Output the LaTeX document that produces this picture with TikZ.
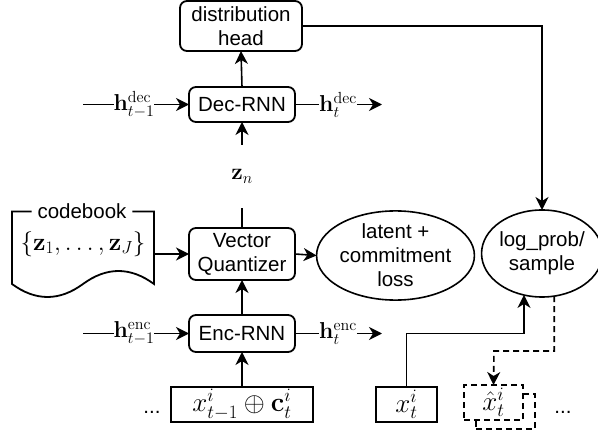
\documentclass[tikz,border=0pt]{standalone}
\usepackage{fix-cm}
\usepackage[no-math]{fontspec}
\setmainfont{Liberation Sans}
\usetikzlibrary{arrows.meta,calc,shapes.geometric}
\begin{document}
\begin{tikzpicture}[x=1pt,y=-1pt,
  every node/.style={font=\fontsize{20.5}{24}\selectfont, inner sep=0pt, outer sep=0pt},
  mth/.style={font=\fontsize{23}{27}\selectfont},
  bigmth/.style={font=\fontsize{27}{31}\selectfont},
  rbox/.style={draw, rounded corners=7pt, line width=1.8pt, align=center, minimum width=106pt},
  sbox/.style={draw, line width=1.8pt},
  dbox/.style={draw, dashed, line width=1.8pt, fill=white, minimum width=59pt, minimum height=35pt},
  ell/.style={draw, ellipse, line width=1.6pt, align=center},
  conn/.style={line width=1.6pt},
  arr/.style={conn, -{Stealth[length=13pt,width=13pt,inset=4pt]}},
  dashed/.style={dash pattern=on 6pt off 4pt},
]
\useasboundingbox (0,0) rectangle (598,433);

% main column
\node[rbox, minimum width=122pt, minimum height=50pt] (dist) at (241,26) {distribution\\head};
\node[rbox, minimum height=35pt] (dec) at (242,104.5) {Dec-RNN};
\node[rbox, minimum height=52pt] (vq) at (242,254) {Vector\\Quantizer};
\node[rbox, minimum height=37pt] (enc) at (242,333.5) {Enc-RNN};
\node[sbox, bigmth, minimum width=142pt, minimum height=35pt] (inp) at (242,404.5) {$x_{t-1}^{i}\oplus\mathbf{c}_t^{i}$};
\node[mth, minimum height=63pt] (zn) at (242,176.5) {$\mathbf{z}_n$};

\draw[arr] (dec.north) -- (dist.south);
\draw[conn] (vq.north) -- (zn.south);
\draw[arr] (zn.north) -- (dec.south);
\draw[arr] (enc.north) -- (vq.south);
\draw[arr] (inp.north) -- (enc.south);

% hidden state labels
\coordinate (dl) at (83,104.5);
\node[mth] (hdl) at (134,104.5) {$\mathbf{h}_{t-1}^{\mathrm{dec}}$};
\draw[conn] (dl) -- (hdl.west);
\draw[arr] (hdl.east) -- (dec.west);
\node[mth] (hdr) at (338,104.5) {$\mathbf{h}_{t}^{\mathrm{dec}}$};
\coordinate (dr) at (382,104.5);
\draw[conn] (dec.east) -- (hdr.west);
\draw[arr] (hdr.east) -- (dr);

\coordinate (el) at (83,333.5);
\node[mth] (hel) at (134,333.5) {$\mathbf{h}_{t-1}^{\mathrm{enc}}$};
\draw[conn] (el) -- (hel.west);
\draw[arr] (hel.east) -- (enc.west);
\node[mth] (her) at (338,333.5) {$\mathbf{h}_{t}^{\mathrm{enc}}$};
\coordinate (er) at (382,333.5);
\draw[conn] (enc.east) -- (her.west);
\draw[arr] (her.east) -- (er);

% codebook
\node[inner xsep=6pt] (cbl) at (82,211.5) {codebook};
\node[font=\fontsize{25}{29}\selectfont] (cbset) at (83,244) {$\{\mathbf{z}_1,\ldots,\mathbf{z}_J\}$};
\draw[line width=1.8pt] (cbl.west) -- (12,211.5) -- (12,284)
  .. controls (35.67,301.33) and (59.33,301.33) .. (83,284)
  .. controls (106.67,266.67) and (130.33,266.67) .. (154,284)
  -- (154,211.5) -- (cbl.east);
\coordinate (cbr) at (154,254);
\draw[arr] (cbr) -- (vq.west);

% loss ellipse
\node[ell, minimum width=119pt, minimum height=85pt] (lat) at (395.5,255.5) {latent +\\commitment\\loss};
\draw[arr] (vq.east) -- (lat.west);

% log prob
\node[ell, minimum width=120pt, minimum height=87pt] (lp) at (542,253.5) {log\_prob/\\sample};
\draw[arr] (dist.east) -| (lp.north);

% x_t
\node[sbox, bigmth, minimum width=61pt, minimum height=35pt] (xt) at (406.5,404.5) {$x_t^{i}$};
\coordinate (cj) at (524,333.5);
\draw[arr] (xt.north) |- (cj) -- (cj |- lp.246);

% x hat
\node[dbox] (xhb) at (505.5,411.5) {};
\node[dbox, bigmth] (xhf) at (493.5,402.5) {$\hat{x}_t^{i}$};
\coordinate (dj) at (494,351);
\draw[arr, dashed] (lp.286) |- (dj) -- (xhf.north);

% ellipses
\node[anchor=base] (dotl) at (152,413) {...};
\node[anchor=base] (dotr) at (563,413) {...};
\end{tikzpicture}
\end{document}
